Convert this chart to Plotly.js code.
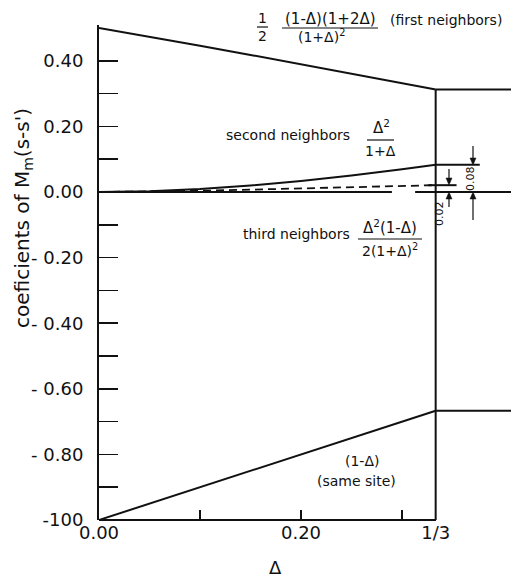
<!DOCTYPE html>
<html><head><meta charset="utf-8">
<script src="https://cdn.plot.ly/plotly-3.0.1.min.js"></script>
<style>body{margin:0;background:#fff}#chart{width:511px;height:580px}</style>
</head><body><div id="chart"></div>
<script>
// ---- data ----
const delta = [0, 0.05, 0.10, 0.15, 0.20, 0.25, 0.30, 1/3];
const firstNeighbors = [0.500, 0.474, 0.446, 0.418, 0.389, 0.360, 0.331, 0.3125];
const secondNeighbors = [0, 0.0024, 0.0091, 0.0196, 0.0333, 0.050, 0.0692, 0.0833];
const thirdNeighbors = [0, 0.0011, 0.0037, 0.0072, 0.0111, 0.0150, 0.0186, 0.0208];
const sameSite = [-1.0, -0.95, -0.90, -0.85, -0.80, -0.75, -0.70, -0.667];
const edgeX = [1/3, 0.41];
const firstPlateau = [0.3125, 0.3125];
const samePlateau = [-0.667, -0.667];
const secondStubX = [1/3, 0.377];
const secondStub = [0.0833, 0.0833];
const thirdStubX = [0.326, 0.354];
const thirdStub = [0.0208, 0.0208];
const zeroLeftX = [0, 0.29];
const zeroRightX = [0.313, 0.41];
const zeroVals = [0, 0];
const thirdX = [1/3, 1/3];
const thirdWall = [0.3125, -1.0];
const yTickVals = [-1.0, -0.8, -0.6, -0.4, -0.2, 0, 0.2, 0.4];
const yTickText = ['-100', '- 0.80', '- 0.60', '- 0.40', '- 0.20', '0.00', '0.20', '0.40'];
const yMinorVals = [-0.9, -0.7, -0.5, -0.3, -0.1, 0.1, 0.3];
const xTickVals = [0, 0.2, 1/3];
const xTickText = ['0.00', '0.20', '1/3'];
const xMinorVals = [0.1, 0.3];

// ---- layout helpers (pixel -> paper) ----
const L = 99, T = 25, W = 412, H = 495;
const px = x => (x - L) / W;
const py = y => (T + H - y) / H;
const FONT = 'DejaVu Sans';
const K = '#111';

function solid(x, y) { return {x, y, mode: 'lines', line: {color: K, width: 2}, hoverinfo: 'skip', showlegend: false}; }
const traces = [
  solid(delta, firstNeighbors),
  solid(delta, secondNeighbors),
  {x: delta, y: thirdNeighbors, mode: 'lines', line: {color: K, width: 1.8, dash: '8px,5px'}, hoverinfo: 'skip', showlegend: false},
  solid(delta, sameSite),
  solid(edgeX, firstPlateau),
  solid(edgeX, samePlateau),
  solid(secondStubX, secondStub),
  solid(thirdStubX, thirdStub),
  solid(zeroLeftX, zeroVals),
  solid(zeroRightX, zeroVals),
  solid(thirdX, thirdWall)
];

function txt(text, x, y, size, extra) {
  return Object.assign({text, x: px(x), y: py(y), xref: 'paper', yref: 'paper', showarrow: false,
    xanchor: 'center', yanchor: 'middle', borderpad: 0, font: {family: FONT, size: size || 14, color: K}}, extra || {});
}
function bar(x0, x1, y, w) {
  return {type: 'line', xref: 'paper', yref: 'paper', x0: px(x0), x1: px(x1), y0: py(y), y1: py(y), line: {color: K, width: w || 1.2}};
}
// dimension arrow: tail at (x, y0), tip at (x, y1) -> returns line + head
function dimArrow(x, y0, y1) {
  const dir = Math.sign(y1 - y0);
  const b = y1 - dir * 7;
  const head = 'M ' + px(x) + ' ' + py(y1) + ' L ' + px(x - 3) + ' ' + py(b) + ' L ' + px(x + 3) + ' ' + py(b) + ' Z';
  return [
    {type: 'line', xref: 'paper', yref: 'paper', x0: px(x), x1: px(x), y0: py(y0), y1: py(b), line: {color: K, width: 1.2}},
    {type: 'path', xref: 'paper', yref: 'paper', path: head, fillcolor: K, line: {color: K, width: 0.5}}
  ];
}

const annotations = [
  txt('1', 262, 18, 14), txt('2', 262, 36, 14),
  txt('(1-Δ)(1+2Δ)', 330, 19, 15), txt('(1+Δ)<sup>2</sup>', 321, 36, 14),
  txt('(first neighbors)', 446, 20, 14),
  txt('second neighbors', 288, 135, 14),
  txt('Δ<sup>2</sup>', 381, 127, 15), txt('1+Δ', 380, 151, 14),
  txt('third neighbors', 296, 234, 14),
  txt('Δ<sup>2</sup>(1-Δ)', 390, 227, 15), txt('2(1+Δ)<sup>2</sup>', 390, 250, 14),
  txt('(1-Δ)', 362, 461, 14), txt('(same site)', 356, 481, 14),
  txt('0.02', 439, 214, 11, {textangle: -90}),
  txt('0.08', 470, 179, 11, {textangle: -90}),
  txt('Δ', 275, 567, 18),
  txt("coeficients of M<sub>m</sub>(s-s')", 23, 218, 20, {textangle: -90})
];

const shapes = [
  bar(257, 268, 27), bar(282, 378, 28), bar(367, 394, 140), bar(358, 422, 239),
  bar(99, 436, 520, 2)
].concat(dimArrow(449, 169, 185), dimArrow(449, 207, 192), dimArrow(473, 146, 165), dimArrow(473, 220, 192));

const layout = {
  width: 511, height: 580,
  margin: {l: L, r: 0, t: T, b: 580 - T - H},
  paper_bgcolor: '#fff', plot_bgcolor: '#fff',
  showlegend: false,
  xaxis: {range: [0, W / 1010], tickvals: xTickVals, ticktext: xTickText, ticks: 'inside', ticklen: 10,
    tickwidth: 1.5, tickcolor: K, showline: false, zeroline: false, showgrid: false,
    minor: {tickvals: xMinorVals, ticks: 'inside', ticklen: 10, tickwidth: 1.5, tickcolor: K, showgrid: false},
    tickfont: {family: FONT, size: 18, color: K}, fixedrange: true},
  yaxis: {range: [-1.0, -1.0 + H / 328], tickvals: yTickVals, ticktext: yTickText, ticks: 'inside', ticklen: 19,
    tickwidth: 1.5, tickcolor: K, showline: true, linewidth: 2, linecolor: K, zeroline: false, showgrid: false,
    minor: {tickvals: yMinorVals, ticks: 'inside', ticklen: 19, tickwidth: 1.5, tickcolor: K, showgrid: false},
    ticklabelstandoff: 10, tickfont: {family: FONT, size: 18, color: K}, fixedrange: true},
  annotations, shapes
};

Plotly.newPlot('chart', traces, layout, {displayModeBar: false, staticPlot: true});
</script>
</body></html>
